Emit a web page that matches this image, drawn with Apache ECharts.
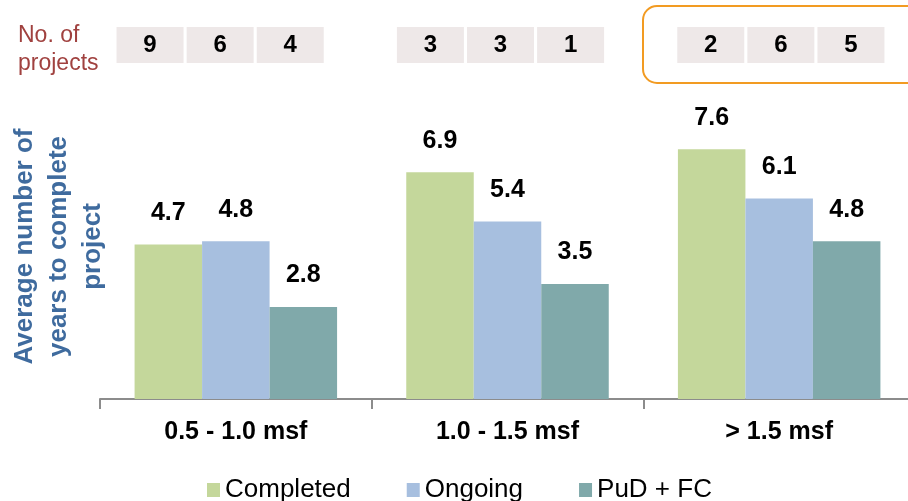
<!DOCTYPE html>
<html>
<head>
<meta charset="utf-8">
<script src="https://cdn.jsdelivr.net/npm/echarts@6/dist/echarts.min.js"></script>
<style>
html,body{margin:0;padding:0;background:#fff;}
#chart{width:908px;height:501px;}
</style>
</head>
<body>
<div id="chart"></div>
<script>
var categories = ['0.5 - 1.0 msf', '1.0 - 1.5 msf', '> 1.5 msf'];
var seriesNames = ['Completed', 'Ongoing', 'PuD + FC'];
var completed = [4.7, 6.9, 7.6];
var ongoing = [4.8, 5.4, 6.1];
var pudFc = [2.8, 3.5, 4.8];
var projectCounts = [[9, 6, 4], [3, 3, 1], [2, 6, 5]];

var colors = ['#C4D79B', '#A7BFDF', '#80A9AA'];

// strip slots: 3 counts per group, one blank slot between groups
var stripCounts = [];
projectCounts.forEach(function (g, i) {
  if (i > 0) stripCounts.push(null);
  g.forEach(function (c) { stripCounts.push(c); });
});
var stripSlots = stripCounts.map(function (c, i) { return 's' + i; });
var stripData = stripCounts.map(function (c) { return c === null ? '-' : 1; });

var chart = echarts.init(document.getElementById('chart'), null, {renderer: 'canvas'});
var font = 'Liberation Sans, Arial, sans-serif';

function barSeries(name, data, color) {
  return {
    name: name,
    type: 'bar',
    xAxisIndex: 0,
    yAxisIndex: 0,
    data: data,
    barWidth: 67.5,
    barGap: '0%',
    itemStyle: {color: color},
    label: {
      show: true,
      position: 'top',
      distance: 19,
      fontFamily: font,
      fontSize: 25,
      fontWeight: 'bold',
      color: '#000'
    }
  };
}

var option = {
  backgroundColor: '#fff',
  animation: false,
  textStyle: {fontFamily: font},
  title: {
    text: 'No. of\nprojects',
    left: 13,
    top: 17,
    textStyle: {fontFamily: font, fontSize: 23, fontWeight: 'normal', color: '#A0413F', lineHeight: 28}
  },
  legend: {
    data: seriesNames,
    left: 202,
    top: 472,
    icon: 'rect',
    itemWidth: 13,
    itemHeight: 14,
    itemGap: 56,
    textStyle: {fontFamily: font, fontSize: 26, color: '#000'}
  },
  graphic: [{
    type: 'rect',
    shape: {x: 643, y: 6, width: 280, height: 77, r: 14},
    style: {fill: 'none', stroke: '#F29B22', lineWidth: 2},
    silent: true
  }],
  grid: [
    {left: 100, top: 136, width: 815, height: 263, containLabel: false, outerBoundsMode: 'none'},
    {left: 115, top: 27, width: 771, height: 36, containLabel: false, outerBoundsMode: 'none'}
  ],
  xAxis: [{
    type: 'category',
    gridIndex: 0,
    data: categories,
    axisLine: {show: true, lineStyle: {color: '#8C8C8C', width: 2}},
    axisTick: {show: true, length: 10, lineStyle: {color: '#8C8C8C', width: 2}},
    axisLabel: {margin: 21, fontFamily: font, fontSize: 25, fontWeight: 'bold', color: '#000'}
  }, {
    type: 'category',
    gridIndex: 1,
    data: stripSlots,
    show: false
  }],
  yAxis: [{
    type: 'value',
    gridIndex: 0,
    min: 0,
    max: 8,
    axisLine: {show: false},
    axisTick: {show: false},
    axisLabel: {show: false},
    splitLine: {show: false},
    name: 'Average number of\nyears to complete\nproject',
    nameLocation: 'middle',
    nameGap: -10,
    nameTextStyle: {fontFamily: font, fontSize: 26, fontWeight: 'bold', color: '#3F6B9E', lineHeight: 34, align: 'center', padding: [0, 0, 0, 42]}
  }, {
    type: 'value',
    gridIndex: 1,
    min: 0,
    max: 1,
    show: false
  }],
  series: [
    barSeries(seriesNames[0], completed, colors[0]),
    barSeries(seriesNames[1], ongoing, colors[1]),
    barSeries(seriesNames[2], pudFc, colors[2]),
    {
      name: 'No. of projects',
      type: 'bar',
      xAxisIndex: 1,
      yAxisIndex: 1,
      data: stripData,
      barWidth: 67,
      silent: true,
      itemStyle: {color: '#EEE8E8'},
      label: {
        show: true,
        position: 'inside',
        fontFamily: font,
        fontSize: 24,
        fontWeight: 'bold',
        color: '#000',
        formatter: function (p) { return stripCounts[p.dataIndex]; }
      }
    }
  ]
};
chart.setOption(option);
</script>
</body>
</html>
